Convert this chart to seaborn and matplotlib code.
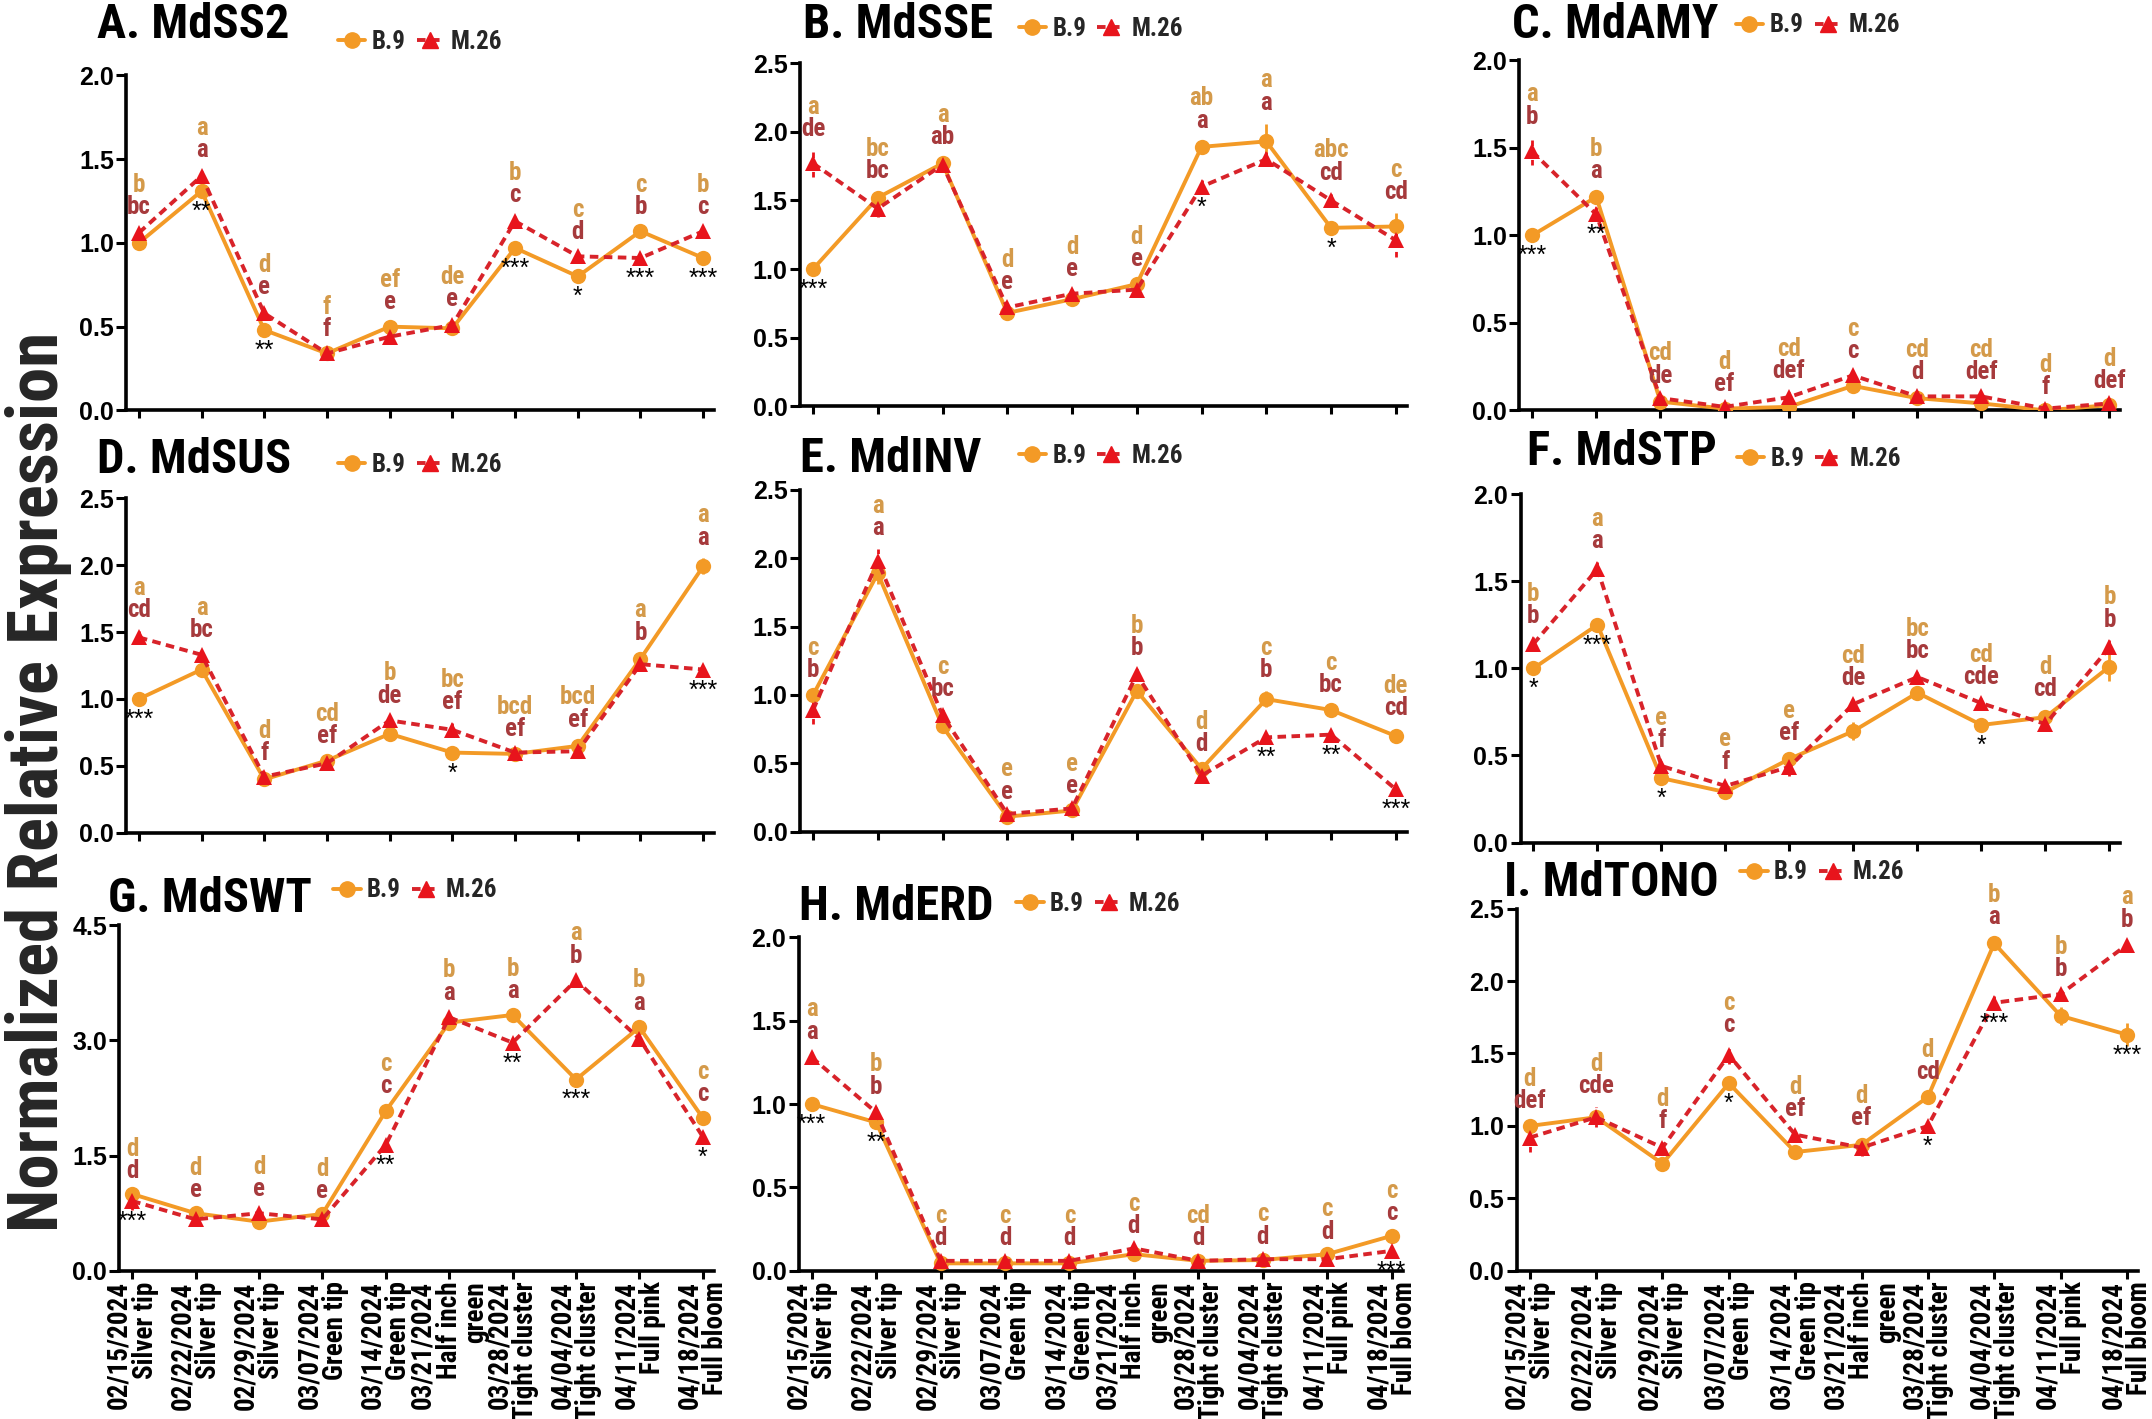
import matplotlib
matplotlib.use("Agg")
import matplotlib.pyplot as plt
from matplotlib import font_manager
from matplotlib.lines import Line2D
import seaborn as sns
import pandas as pd

# ---------------- data ----------------
DATES = ["02/15/2024", "02/22/2024", "02/29/2024", "03/07/2024", "03/14/2024",
         "03/21/2024", "03/28/2024", "04/04/2024", "04/11/2024", "04/18/2024"]
STAGES = ["Silver tip", "Silver tip", "Silver tip", "Green tip", "Green tip",
          "Half inch\ngreen", "Tight cluster", "Tight cluster", "Full pink", "Full bloom"]
GENOTYPES = ["B.9", "M.26"]

# A. MdSS2
SS2_B9 = [1.00, 1.31, 0.48, 0.34, 0.50, 0.49, 0.97, 0.80, 1.07, 0.91]
SS2_M26 = [1.06, 1.40, 0.58, 0.34, 0.44, 0.51, 1.13, 0.92, 0.91, 1.07]
SS2_B9_ERR = [0.02, 0.03, 0.03, 0.02, 0.02, 0.02, 0.03, 0.02, 0.02, 0.02]
SS2_M26_ERR = [0.03, 0.03, 0.03, 0.02, 0.03, 0.03, 0.03, 0.02, 0.02, 0.02]
SS2_B9_LET = ["b", "a", "d", "f", "ef", "de", "b", "c", "c", "b"]
SS2_M26_LET = ["bc", "a", "e", "f", "e", "e", "c", "d", "b", "c"]
SS2_SIG = ["", "**", "**", "", "", "", "***", "*", "***", "***"]

# B. MdSSE
SSE_B9 = [1.00, 1.52, 1.77, 0.68, 0.78, 0.89, 1.89, 1.93, 1.30, 1.31]
SSE_M26 = [1.77, 1.44, 1.76, 0.72, 0.82, 0.85, 1.60, 1.80, 1.50, 1.21]
SSE_B9_ERR = [0.02, 0.04, 0.04, 0.03, 0.03, 0.03, 0.04, 0.13, 0.05, 0.10]
SSE_M26_ERR = [0.10, 0.06, 0.03, 0.03, 0.03, 0.02, 0.05, 0.05, 0.05, 0.12]
SSE_B9_LET = ["a", "bc", "a", "d", "d", "d", "ab", "a", "abc", "c"]
SSE_M26_LET = ["de", "bc", "ab", "e", "e", "e", "a", "a", "cd", "cd"]
SSE_SIG = ["***", "", "", "", "", "", "*", "", "*", ""]

# C. MdAMY
AMY_B9 = [1.00, 1.22, 0.05, 0.01, 0.02, 0.14, 0.07, 0.04, 0.00, 0.03]
AMY_M26 = [1.48, 1.12, 0.07, 0.02, 0.075, 0.20, 0.08, 0.08, 0.01, 0.04]
AMY_B9_ERR = [0.02, 0.03, 0.01, 0.01, 0.01, 0.02, 0.01, 0.01, 0.005, 0.01]
AMY_M26_ERR = [0.08, 0.04, 0.01, 0.01, 0.03, 0.02, 0.02, 0.02, 0.005, 0.01]
AMY_B9_LET = ["a", "b", "cd", "d", "cd", "c", "cd", "cd", "d", "d"]
AMY_M26_LET = ["b", "a", "de", "ef", "def", "c", "d", "def", "f", "def"]
AMY_SIG = ["***", "**", "", "", "", "", "", "", "", ""]

# D. MdSUS
SUS_B9 = [1.00, 1.22, 0.40, 0.54, 0.74, 0.60, 0.59, 0.65, 1.30, 1.99]
SUS_M26 = [1.46, 1.33, 0.42, 0.52, 0.84, 0.77, 0.60, 0.61, 1.26, 1.22]
SUS_B9_ERR = [0.02, 0.04, 0.02, 0.03, 0.03, 0.02, 0.02, 0.04, 0.04, 0.06]
SUS_M26_ERR = [0.05, 0.03, 0.02, 0.03, 0.03, 0.05, 0.02, 0.02, 0.05, 0.02]
SUS_B9_LET = ["a", "a", "d", "cd", "b", "bc", "bcd", "bcd", "a", "a"]
SUS_M26_LET = ["cd", "bc", "f", "ef", "de", "ef", "ef", "ef", "b", "a"]
SUS_SIG = ["***", "", "", "", "", "*", "", "", "", "***"]

# E. MdINV
INV_B9 = [1.00, 1.89, 0.77, 0.11, 0.155, 1.03, 0.46, 0.97, 0.89, 0.70]
INV_M26 = [0.89, 1.98, 0.85, 0.13, 0.17, 1.15, 0.41, 0.69, 0.71, 0.31]
INV_B9_ERR = [0.03, 0.08, 0.04, 0.01, 0.01, 0.04, 0.03, 0.06, 0.03, 0.05]
INV_M26_ERR = [0.10, 0.09, 0.04, 0.01, 0.01, 0.04, 0.03, 0.03, 0.02, 0.02]
INV_B9_LET = ["c", "a", "c", "e", "e", "b", "d", "c", "c", "de"]
INV_M26_LET = ["b", "a", "bc", "e", "e", "b", "d", "b", "bc", "cd"]
INV_SIG = ["", "", "", "", "", "", "", "**", "**", "***"]

# F. MdSTP
STP_B9 = [1.00, 1.25, 0.37, 0.29, 0.48, 0.64, 0.86, 0.675, 0.72, 1.01]
STP_M26 = [1.14, 1.57, 0.44, 0.325, 0.435, 0.795, 0.95, 0.80, 0.68, 1.12]
STP_B9_ERR = [0.02, 0.03, 0.03, 0.02, 0.03, 0.05, 0.03, 0.03, 0.04, 0.08]
STP_M26_ERR = [0.04, 0.04, 0.03, 0.02, 0.05, 0.03, 0.03, 0.03, 0.03, 0.04]
STP_B9_LET = ["b", "a", "e", "e", "e", "cd", "bc", "cd", "d", "b"]
STP_M26_LET = ["b", "a", "f", "f", "ef", "de", "bc", "cde", "cd", "b"]
STP_SIG = ["*", "***", "*", "", "", "", "", "*", "", ""]

# G. MdSWT
SWT_B9 = [1.00, 0.75, 0.64, 0.74, 2.08, 3.23, 3.33, 2.49, 3.17, 1.99]
SWT_M26 = [0.91, 0.67, 0.75, 0.67, 1.64, 3.30, 2.97, 3.78, 3.02, 1.745]
SWT_B9_ERR = [0.03, 0.03, 0.03, 0.03, 0.05, 0.05, 0.04, 0.04, 0.05, 0.04]
SWT_M26_ERR = [0.12, 0.04, 0.04, 0.08, 0.06, 0.05, 0.06, 0.05, 0.05, 0.05]
SWT_B9_LET = ["d", "d", "d", "d", "c", "b", "b", "a", "b", "c"]
SWT_M26_LET = ["d", "e", "e", "e", "c", "a", "a", "b", "a", "c"]
SWT_SIG = ["***", "", "", "", "**", "", "**", "***", "", "*"]

# H. MdERD
ERD_B9 = [1.00, 0.89, 0.045, 0.045, 0.045, 0.10, 0.06, 0.065, 0.10, 0.21]
ERD_M26 = [1.28, 0.95, 0.06, 0.06, 0.06, 0.135, 0.06, 0.07, 0.07, 0.12]
ERD_B9_ERR = [0.02, 0.03, 0.01, 0.01, 0.01, 0.01, 0.01, 0.01, 0.01, 0.01]
ERD_M26_ERR = [0.03, 0.03, 0.01, 0.01, 0.01, 0.01, 0.01, 0.01, 0.01, 0.01]
ERD_B9_LET = ["a", "b", "c", "c", "c", "c", "cd", "c", "c", "c"]
ERD_M26_LET = ["a", "b", "d", "d", "d", "d", "d", "d", "d", "c"]
ERD_SIG = ["***", "**", "", "", "", "", "", "", "", "***"]

# I. MdTONO
TONO_B9 = [1.00, 1.06, 0.74, 1.295, 0.82, 0.87, 1.20, 2.26, 1.76, 1.63]
TONO_M26 = [0.92, 1.06, 0.85, 1.49, 0.94, 0.85, 1.00, 1.85, 1.91, 2.25]
TONO_B9_ERR = [0.03, 0.04, 0.03, 0.03, 0.02, 0.03, 0.03, 0.04, 0.06, 0.08]
TONO_M26_ERR = [0.10, 0.07, 0.04, 0.06, 0.03, 0.06, 0.03, 0.05, 0.03, 0.03]
TONO_B9_LET = ["d", "d", "d", "c", "d", "d", "d", "b", "b", "a"]
TONO_M26_LET = ["def", "cde", "f", "c", "ef", "ef", "cd", "a", "b", "b"]
TONO_SIG = ["", "", "", "*", "", "", "*", "***", "", "***"]

# ---------------- style ----------------
sns.set_theme(style="white")
names = {f.name for f in font_manager.fontManager.ttflist}
NARROW, NSCALE = "Liberation Sans", 0.84
for cand in ["Liberation Sans Narrow", "Roboto Condensed", "Arial Narrow"]:
    if cand in names:
        NARROW, NSCALE = cand, 1.0
        break
WIDE = "Liberation Sans"
plt.rcParams["font.family"] = [NARROW, "DejaVu Sans"]

C_B9 = "#F39A26"
C_M26 = "#E8141C"
C_M26_LINE = "#D8232A"
C_LET_B9 = "#D49A4A"
C_LET_M26 = "#A63A3C"

panels = [
    ("A. MdSS2", SS2_B9, SS2_M26, SS2_B9_ERR, SS2_M26_ERR, SS2_B9_LET, SS2_M26_LET, SS2_SIG,
     [0, 0.5, 1.0, 1.5, 2.0], [0.0587, 0.7108, 0.273, 0.236], 1.15, -0.05),
    ("B. MdSSE", SSE_B9, SSE_M26, SSE_B9_ERR, SSE_M26_ERR, SSE_B9_LET, SSE_M26_LET, SSE_SIG,
     [0, 0.5, 1.0, 1.5, 2.0, 2.5], [0.3718, 0.7137, 0.2819, 0.2418], 1.11, 0.005),
    ("C. MdAMY", AMY_B9, AMY_M26, AMY_B9_ERR, AMY_M26_ERR, AMY_B9_LET, AMY_M26_LET, AMY_SIG,
     [0, 0.5, 1.0, 1.5, 2.0], [0.7060, 0.7108, 0.2793, 0.2466], 1.10, -0.012),
    ("D. MdSUS", SUS_B9, SUS_M26, SUS_B9_ERR, SUS_M26_ERR, SUS_B9_LET, SUS_M26_LET, SUS_SIG,
     [0, 0.5, 1.0, 1.5, 2.0, 2.5], [0.0587, 0.4130, 0.273, 0.236], 1.115, -0.05),
    ("E. MdINV", INV_B9, INV_M26, INV_B9_ERR, INV_M26_ERR, INV_B9_LET, INV_M26_LET, INV_SIG,
     [0, 0.5, 1.0, 1.5, 2.0, 2.5], [0.3718, 0.4139, 0.2819, 0.2408], 1.09, 0.0),
    ("F. MdSTP", STP_B9, STP_M26, STP_B9_ERR, STP_M26_ERR, STP_B9_LET, STP_M26_LET, STP_SIG,
     [0, 0.5, 1.0, 1.5, 2.0], [0.7066, 0.4062, 0.2787, 0.2456], 1.12, 0.01),
    ("G. MdSWT", SWT_B9, SWT_M26, SWT_B9_ERR, SWT_M26_ERR, SWT_B9_LET, SWT_M26_LET, SWT_SIG,
     [0, 1.5, 3.0, 4.5], [0.0555, 0.1044, 0.2761, 0.2437], 1.075, -0.02),
    ("H. MdERD", ERD_B9, ERD_M26, ERD_B9_ERR, ERD_M26_ERR, ERD_B9_LET, ERD_M26_LET, ERD_SIG,
     [0, 0.5, 1.0, 1.5, 2.0], [0.3712, 0.1044, 0.2806, 0.2351], 1.09, 0.0),
    ("I. MdTONO", TONO_B9, TONO_M26, TONO_B9_ERR, TONO_M26_ERR, TONO_B9_LET, TONO_M26_LET, TONO_SIG,
     [0, 0.5, 1.0, 1.5, 2.0, 2.5], [0.7047, 0.1044, 0.2889, 0.2553], 1.07, -0.02),
]

fig = plt.figure(figsize=(21.52, 14.19), dpi=100)
xs = list(range(len(DATES)))
line_dash = (2.2, 1.4)

for i, (title, b9, m26, eb9, em26, lb9, lm26, sig, yticks, pos, ty, tx) in enumerate(panels):
    ax = fig.add_axes(pos)
    df = pd.DataFrame({
        "x": xs * 2,
        "value": b9 + m26,
        "genotype": ["B.9"] * len(xs) + ["M.26"] * len(xs),
    })
    sns.lineplot(data=df, x="x", y="value", hue="genotype", style="genotype",
                 palette={"B.9": C_B9, "M.26": C_M26_LINE},
                 markers={"B.9": "o", "M.26": "^"},
                 dashes={"B.9": "", "M.26": line_dash},
                 markersize=11, markeredgewidth=0, linewidth=2.8,
                 legend=False, ax=ax, zorder=3)
    for ln, c in zip(ax.lines, [C_B9, C_M26]):
        ln.set_markerfacecolor(c)
        ln.set_markeredgecolor(c)
    ax.errorbar(xs, b9, yerr=eb9, fmt="none", ecolor=C_B9, elinewidth=2, capsize=0, zorder=2)
    eb = ax.errorbar(xs, m26, yerr=em26, fmt="none", ecolor=C_M26, elinewidth=2, capsize=0, zorder=2)
    eb[2][0].set_linestyle((0, (2, 1.5)))

    ax.set_ylim(0, yticks[-1])
    ax.set_xlim(-0.2, 9.17)
    ax.set_yticks(yticks)
    ax.set_yticklabels([f"{t:.1f}" for t in yticks], fontsize=18,
                       fontweight="bold", family=[WIDE, "DejaVu Sans"])
    ax.set_xticks(xs)
    if i >= 6:
        ax.set_xticklabels([f"{d}\n{s}" for d, s in zip(DATES, STAGES)], rotation=90,
                           ha="center", va="top", multialignment="right",
                           fontsize=19.5 * NSCALE, fontweight="bold",
                           family=[NARROW, "DejaVu Sans"], linespacing=0.95)
    else:
        ax.set_xticklabels([])
    ax.set_xlabel("")
    ax.set_ylabel("")
    ax.tick_params(axis="y", direction="out", length=7, width=2.2, colors="black",
                   left=True, pad=2)
    ax.tick_params(axis="x", direction="out", length=6, width=2.2, colors="black",
                   bottom=True, pad=1.5)
    sns.despine(ax=ax)
    for sp in ["left", "bottom"]:
        ax.spines[sp].set_color("black")
        ax.spines[sp].set_linewidth(2.6)

    # group letters above the higher point, significance below the lower point
    for x, yb, ym, e1, e2, t1, t2, s in zip(xs, b9, m26, eb9, em26, lb9, lm26, sig):
        top = max(yb + e1, ym + e2)
        ax.annotate(t2, (x, top), xytext=(0, 15), textcoords="offset points",
                    ha="center", va="center", fontsize=18 * NSCALE, fontweight="bold",
                    color=C_LET_M26, annotation_clip=False)
        ax.annotate(t1, (x, top), xytext=(0, 31), textcoords="offset points",
                    ha="center", va="center", fontsize=18 * NSCALE, fontweight="bold",
                    color=C_LET_B9, annotation_clip=False)
        if s:
            low = min(yb, ym)
            ax.annotate(s, (x, low), xytext=(0, -15), textcoords="offset points",
                        ha="center", va="center", fontsize=18, color="black",
                        family=[WIDE, "DejaVu Sans"], annotation_clip=False)

    ax.text(tx, ty, title, transform=ax.transAxes, ha="left", va="center",
            fontsize=35 * NSCALE, fontweight="bold", color="black")
    handles = [
        Line2D([0], [0], color=C_B9, lw=2.8, marker="o", ms=11, mec=C_B9, mfc=C_B9),
        Line2D([0], [0], color=C_M26_LINE, lw=2.8, ls=(0, line_dash), marker="^", ms=11,
               mec=C_M26, mfc=C_M26),
    ]
    ax.legend(handles, GENOTYPES, loc="center left", bbox_to_anchor=(0.36, 1.10),
              ncol=2, frameon=False, handlelength=1.1, handletextpad=0.25,
              columnspacing=0.45, borderaxespad=0, borderpad=0,
              prop={"family": [NARROW, "DejaVu Sans"], "weight": "bold", "size": 18 * NSCALE})

fig.text(0.018, 0.449, "Normalized Relative Expression", rotation=90, ha="center",
         va="center", fontsize=51 * NSCALE, fontweight="bold")

fig.savefig("out.png", dpi=100, facecolor="white")
